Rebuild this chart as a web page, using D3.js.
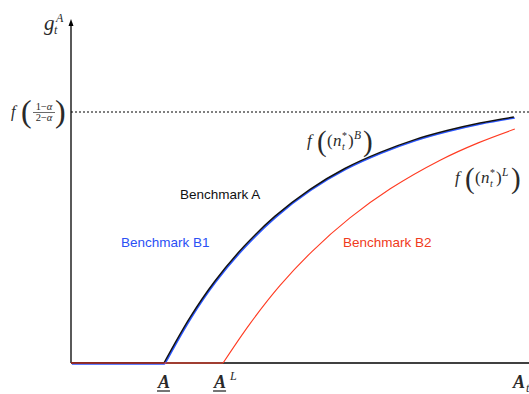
<!DOCTYPE html>
<html><head><meta charset="utf-8">
<script src="https://cdn.jsdelivr.net/npm/d3@7"></script>
<style>body{margin:0;background:#fff}svg{display:block}</style>
</head><body>
<script>
// Data (x in units of A_t axis, y in units of f((1-a)/(2-a)))
const seriesA_x  = [0, 2.03, 2.60, 3.14, 3.78, 4.45, 5.22, 5.98, 6.75, 7.51, 8.21, 8.93, 9.67];
const seriesA_y  = [0, 0, 0.182, 0.326, 0.465, 0.584, 0.692, 0.775, 0.839, 0.890, 0.926, 0.956, 0.980];
const seriesB1_x = seriesA_x.slice();
const seriesB1_y = seriesA_y.slice();
const seriesB2_x = [0, 3.32, 3.91, 4.56, 5.26, 6.09, 6.97, 8.06, 8.89, 9.69];
const seriesB2_y = [0, 0, 0.157, 0.308, 0.444, 0.578, 0.694, 0.808, 0.877, 0.932];
const ceilingY = 1;
const xTicks = [2.03, 3.32, 9.67];

const W = 529, H = 394;
const x = d3.scaleLinear().domain([0, 10]).range([71, 529]);
const y = d3.scaleLinear().domain([0, 1]).range([363, 112]);

const svg = d3.select("body").append("svg").attr("width", W).attr("height", H);
const serif = "'Liberation Serif','DejaVu Serif',serif";
const sans = "'Liberation Sans',Arial,sans-serif";

// axes
svg.append("line").attr("x1", x(0)).attr("x2", W).attr("y1", y(0)).attr("y2", y(0))
  .attr("stroke", "#000").attr("stroke-width", 1.3);
svg.append("line").attr("x1", x(0)).attr("x2", x(0)).attr("y1", y(0)).attr("y2", 24)
  .attr("stroke", "#000").attr("stroke-width", 1.3);
svg.append("path").attr("d", `M${x(0)},19 L${x(0)-2.5},26 L${x(0)+2.5},26 Z`).attr("fill", "#000");

// dotted ceiling
svg.append("line").attr("x1", x(0)).attr("x2", W).attr("y1", y(ceilingY)).attr("y2", y(ceilingY))
  .attr("stroke", "#000").attr("stroke-width", 1).attr("stroke-dasharray", "2,2");

const flat = d3.line().x(d => x(d[0])).y(d => y(d[1]));
const curve = d3.line().x(d => x(d[0])).y(d => y(d[1])).curve(d3.curveCatmullRom.alpha(0.5));
const zip = (a, b) => a.map((v, i) => [v, b[i]]);
function drawSeries(xs, ys, color, width, tr) {
  const pts = zip(xs, ys);
  let k = 0; while (k + 1 < pts.length && pts[k + 1][1] === 0) k++;
  const gg = svg.append("g").attr("transform", tr || null);
  gg.append("path").attr("d", flat(pts.slice(0, k + 1))).attr("fill", "none")
    .attr("stroke", color).attr("stroke-width", width);
  gg.append("path").attr("d", curve(pts.slice(k))).attr("fill", "none")
    .attr("stroke", color).attr("stroke-width", width);
}
drawSeries(seriesB1_x, seriesB1_y, "#2a55ff", 1.6, "translate(0.9,0.9)");
drawSeries(seriesA_x, seriesA_y, "#111", 1.5);
drawSeries(seriesB2_x, seriesB2_y, "#ff3b22", 1.1);

// Benchmark labels
svg.append("text").attr("x", 180).attr("y", 199).attr("font-family", sans).attr("font-size", 13.5)
  .attr("fill", "#111").text("Benchmark A");
svg.append("text").attr("x", 121).attr("y", 247).attr("font-family", sans).attr("font-size", 13.5)
  .attr("fill", "#2a50f5").text("Benchmark B1");
svg.append("text").attr("x", 343).attr("y", 247).attr("font-family", sans).attr("font-size", 13.5)
  .attr("fill", "#f03a20").text("Benchmark B2");

const tc = "#2a2a2a";
// y axis label g_t^A
svg.append("text").attr("x", 44).attr("y", 30).attr("font-family", serif)
  .attr("font-style", "italic").attr("font-size", 21).attr("fill", tc).text("g");
svg.append("text").attr("x", 54).attr("y", 34).attr("font-family", serif)
  .attr("font-style", "italic").attr("font-size", 12).attr("fill", tc).text("t");
svg.append("text").attr("x", 56).attr("y", 22).attr("font-family", serif).attr("font-style", "italic")
  .attr("font-size", 12).attr("fill", tc).text("A");

// f((1-a)/(2-a)) label
svg.append("text").attr("x", 11).attr("y", 117).attr("font-family", serif).attr("font-style", "italic")
  .attr("font-size", 16).attr("fill", tc).text("f");
svg.append("text").attr("x", 21).attr("y", 122).attr("font-family", serif)
  .attr("font-size", 32).attr("fill", tc).text("(");
svg.append("text").attr("x", 55).attr("y", 122).attr("font-family", serif)
  .attr("font-size", 32).attr("fill", tc).text(")");
svg.append("text").attr("x", 44).attr("y", 110).attr("text-anchor", "middle").attr("font-family", serif)
  .attr("font-size", 10.5).attr("fill", tc).html("1&#8722;<tspan font-style='italic'>α</tspan>");
svg.append("line").attr("x1", 33).attr("x2", 55).attr("y1", 112.5).attr("y2", 112.5).attr("stroke", tc).attr("stroke-width", 0.7);
svg.append("text").attr("x", 44).attr("y", 121).attr("text-anchor", "middle").attr("font-family", serif)
  .attr("font-size", 10.5).attr("fill", tc).html("2&#8722;<tspan font-style='italic'>α</tspan>");

// f((n_t^*)^B) and f((n_t^*)^L)
function fLabel(x0, base, sup) {
  const grp = svg.append("g").attr("fill", tc).attr("font-family", serif);
  grp.append("text").attr("x", x0).attr("y", base).attr("font-size", 17).attr("font-style", "italic").text("f");
  grp.append("text").attr("x", x0 + 10).attr("y", base + 5).attr("font-size", 29).text("(");
  grp.append("text").attr("x", x0 + 20).attr("y", base).attr("font-size", 17).text("(");
  grp.append("text").attr("x", x0 + 26).attr("y", base).attr("font-size", 17).attr("font-style", "italic").text("n");
  grp.append("text").attr("x", x0 + 35).attr("y", base + 4).attr("font-size", 10).attr("font-style", "italic").text("t");
  grp.append("text").attr("x", x0 + 35).attr("y", base - 7).attr("font-size", 10).text("*");
  grp.append("text").attr("x", x0 + 41).attr("y", base).attr("font-size", 17).text(")");
  grp.append("text").attr("x", x0 + 47).attr("y", base - 7).attr("font-size", 11.5).attr("font-style", "italic").text(sup);
  grp.append("text").attr("x", x0 + 56).attr("y", base + 5).attr("font-size", 29).text(")");
}
fLabel(307, 146, "B");
fLabel(455, 183, "L");

// x tick labels
const xl = svg.append("g").attr("font-family", serif).attr("font-style", "italic").attr("font-weight", "bold").attr("fill", tc);
xl.append("text").attr("x", x(xTicks[0])).attr("y", 388).attr("text-anchor", "middle").attr("font-size", 18).text("A");
xl.append("line").attr("x1", x(xTicks[0]) - 7).attr("x2", x(xTicks[0]) + 6).attr("y1", 391).attr("y2", 391)
  .attr("stroke", tc).attr("stroke-width", 1.3);
xl.append("text").attr("x", x(xTicks[1]) - 3).attr("y", 388).attr("text-anchor", "middle").attr("font-size", 18).text("A");
xl.append("line").attr("x1", x(xTicks[1]) - 10).attr("x2", x(xTicks[1]) + 3).attr("y1", 391).attr("y2", 391)
  .attr("stroke", tc).attr("stroke-width", 1.3);
xl.append("text").attr("x", x(xTicks[1]) + 7).attr("y", 380).attr("font-size", 12).attr("font-weight", "normal").text("L");
xl.append("text").attr("x", x(xTicks[2]) - 1).attr("y", 388).attr("font-size", 18).text("A");
xl.append("text").attr("x", x(xTicks[2]) + 12).attr("y", 392).attr("font-size", 12).attr("font-weight", "normal").text("t");
</script>
</body></html>
